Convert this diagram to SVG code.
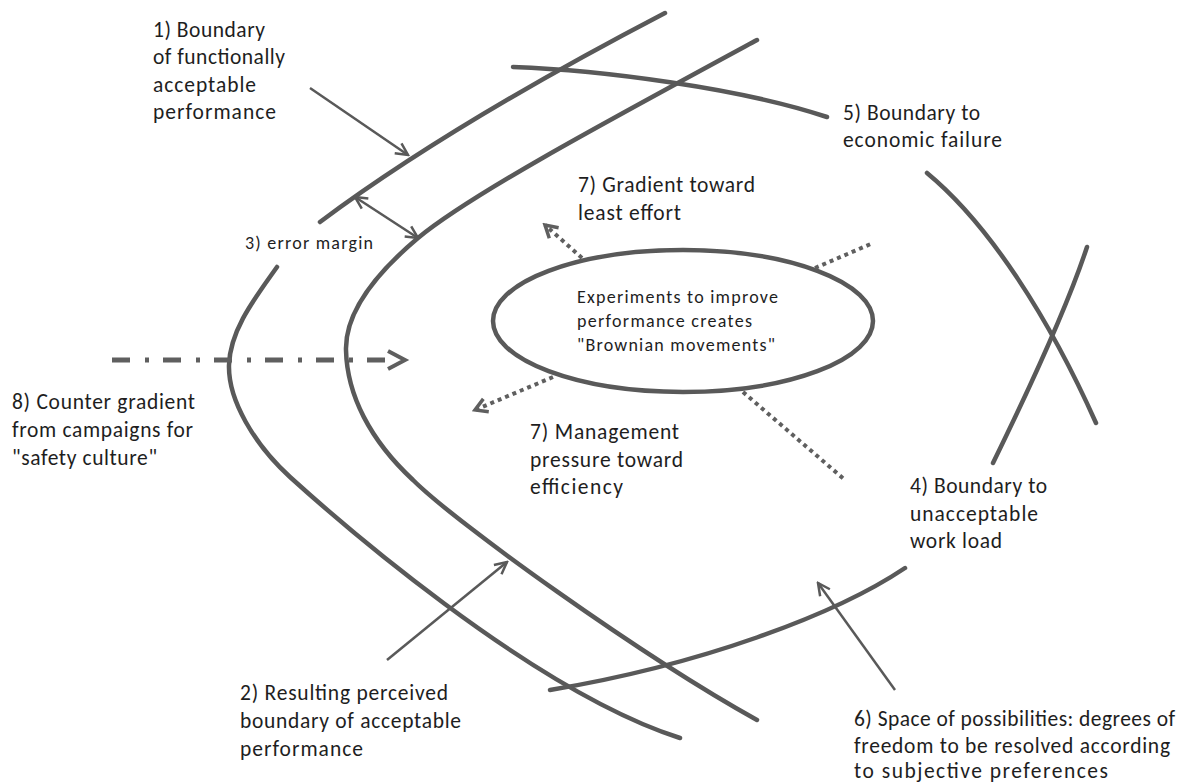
<svg xmlns="http://www.w3.org/2000/svg" width="1192" height="783" viewBox="0 0 1192 783">
<style>
.bd{fill:none;stroke:#595959;stroke-width:4.5;stroke-linecap:round}
.ar{fill:none;stroke:#595959;stroke-width:2.5}
.dot{fill:none;stroke:#5f5f5f;stroke-width:4;stroke-dasharray:4 4}
.dd{fill:none;stroke:#5f5f5f;stroke-width:5;stroke-dasharray:18 15 4 14}
text{font-family:Carlito,'Open Sans','Liberation Sans',sans-serif;fill:#1e1e1e}
.l{font-size:21.5px}
.s{font-size:18px}
</style>
<defs>
<marker id="ah" markerUnits="userSpaceOnUse" viewBox="0 0 16 16" markerWidth="16" markerHeight="16" refX="14" refY="8" orient="auto-start-reverse">
<path d="M2,2 L14,8 L2,14" fill="none" stroke="#595959" stroke-width="2.5"/>
</marker>
<marker id="dah" markerUnits="userSpaceOnUse" viewBox="0 0 18 18" markerWidth="18" markerHeight="18" refX="15" refY="9" orient="auto">
<path d="M3,2 L15,9 L3,16" fill="none" stroke="#5f5f5f" stroke-width="3.5"/>
</marker>
</defs>
<rect width="1192" height="783" fill="#fff"/>

<g id="boundary1">
<path class="bd" d="M665,13 Q450,125 320,222"/>
<path class="bd" d="M277,267 C255,298 230,330 229,365 C228,400 254,444 290,477 C332,515 530,690 680,738"/>
</g>
<g id="boundary2">
<path class="bd" d="M757,40 C600,125 470,195 418,238 C380,270 345,310 346,350 C347,395 370,440 413,480 C455,522 640,655 757,720"/>
</g>
<g id="boundary5">
<path class="bd" d="M513,67 C600,70 740,88 827,117"/>
<path class="bd" d="M927,173 C990,225 1050,320 1096,423"/>
</g>
<g id="boundary4">
<path class="bd" d="M1087,247 Q1063,320 993,463"/>
<path class="bd" d="M905,568 C835,615 700,665 550,690"/>
</g>

<g id="ellipse">
<ellipse cx="683" cy="321" rx="190" ry="71" fill="none" stroke="#595959" stroke-width="4.5"/>
<text class="s" x="577" y="303" textLength="201" lengthAdjust="spacing">Experiments to improve</text>
<text class="s" x="577" y="327" textLength="175" lengthAdjust="spacing">performance creates</text>
<text class="s" x="577" y="351" textLength="198" lengthAdjust="spacing">"Brownian movements"</text>
</g>

<g id="connectors">
<path class="ar" d="M310,88 L408,155" marker-end="url(#ah)"/>
<path class="ar" d="M355,197 L418,238" marker-start="url(#ah)" marker-end="url(#ah)"/>
<path class="ar" d="M387,660 L507,562" marker-end="url(#ah)"/>
<path class="ar" d="M895,690 L818,583" marker-end="url(#ah)"/>
<path class="dot" d="M582,258 L545,225" marker-end="url(#dah)"/>
<path class="dot" d="M815,268 L873,243"/>
<path class="dot" d="M553,377 L475,410" marker-end="url(#dah)"/>
<path class="dot" d="M743,392 L845,480"/>
<path class="dd" d="M112,360 L387,360"/>
<path d="M388,351 L405,360 L388,369" fill="none" stroke="#5f5f5f" stroke-width="4"/>
</g>

<g id="label1">
<text class="l" x="153" y="37" textLength="112" lengthAdjust="spacing">1) Boundary</text>
<text class="l" x="153" y="64" textLength="132" lengthAdjust="spacing">of functionally</text>
<text class="l" x="153" y="92" textLength="103" lengthAdjust="spacing">acceptable</text>
<text class="l" x="153" y="119" textLength="123" lengthAdjust="spacing">performance</text>
</g>
<g id="label3">
<text class="s" x="245" y="249" textLength="128" lengthAdjust="spacing">3) error margin</text>
</g>
<g id="label7a">
<text class="l" x="578" y="192" textLength="177" lengthAdjust="spacing">7) Gradient toward</text>
<text class="l" x="578" y="220" textLength="103" lengthAdjust="spacing">least effort</text>
</g>
<g id="label5">
<text class="l" x="843" y="120" textLength="137" lengthAdjust="spacing">5) Boundary to</text>
<text class="l" x="843" y="147" textLength="159" lengthAdjust="spacing">economic failure</text>
</g>
<g id="label4">
<text class="l" x="910" y="493" textLength="137" lengthAdjust="spacing">4) Boundary to</text>
<text class="l" x="910" y="521" textLength="128" lengthAdjust="spacing">unacceptable</text>
<text class="l" x="910" y="548" textLength="92" lengthAdjust="spacing">work load</text>
</g>
<g id="label7b">
<text class="l" x="530" y="439" textLength="149" lengthAdjust="spacing">7) Management</text>
<text class="l" x="530" y="467" textLength="153" lengthAdjust="spacing">pressure toward</text>
<text class="l" x="530" y="494" textLength="93" lengthAdjust="spacing">efficiency</text>
</g>
<g id="label8">
<text class="l" x="12" y="409" textLength="183" lengthAdjust="spacing">8) Counter gradient</text>
<text class="l" x="12" y="437" textLength="181" lengthAdjust="spacing">from campaigns for</text>
<text class="l" x="12" y="465" textLength="145" lengthAdjust="spacing">"safety culture"</text>
</g>
<g id="label2">
<text class="l" x="240" y="700" textLength="208" lengthAdjust="spacing">2) Resulting perceived</text>
<text class="l" x="240" y="728" textLength="221" lengthAdjust="spacing">boundary of acceptable</text>
<text class="l" x="240" y="756" textLength="123" lengthAdjust="spacing">performance</text>
</g>
<g id="label6">
<text class="l" x="854" y="726" textLength="321" lengthAdjust="spacing">6) Space of possibilities: degrees of</text>
<text class="l" x="854" y="753" textLength="316" lengthAdjust="spacing">freedom to be resolved according</text>
<text class="l" x="854" y="778" textLength="254" lengthAdjust="spacing">to subjective preferences</text>
</g>
</svg>
